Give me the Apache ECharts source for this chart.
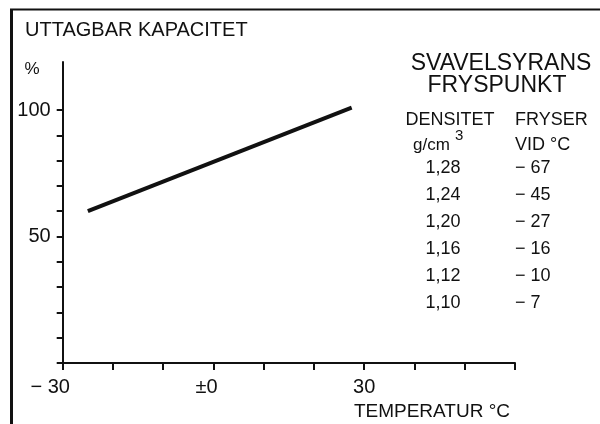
<!DOCTYPE html>
<html>
<head>
<meta charset="utf-8">
<script src="https://cdn.jsdelivr.net/npm/echarts@6/dist/echarts.min.js"></script>
<style>
html,body{margin:0;padding:0;background:#fff;}
#c{width:600px;height:424px;}
</style>
</head>
<body>
<div id="c"></div>
<script>
// ---- data ----
var temperatures = [-25, 27.5];          // °C
var capacity = [60, 101];                // %
var xTickLabels = {'-30': '− 30', '0': '±0', '30': '30'};
var yTickLabels = [50, 100];
var densities = ['1,28', '1,24', '1,20', '1,16', '1,12', '1,10'];
var freezePoints = ['− 67', '− 45', '− 27', '− 16', '− 10', '− 7'];

var INK = '#111111';
var FONT = '"Liberation Sans", Arial, sans-serif';

var chart = echarts.init(document.getElementById('c'), null, {renderer: 'canvas'});

function txt(x, y, s, size, align, weight) {
  return {
    type: 'text', x: x, y: y,
    style: {text: s, fill: INK, font: (weight || 'normal') + ' ' + size + 'px ' + FONT,
            textAlign: align || 'left', textVerticalAlign: 'middle'}
  };
}

var tableGraphics = [];
var rowY0 = 168, rowStep = 27;
densities.forEach(function (d, i) {
  tableGraphics.push(txt(443, rowY0 + i * rowStep, d, 18, 'center'));
  tableGraphics.push(txt(515, rowY0 + i * rowStep, freezePoints[i], 18, 'left'));
});

var graphics = [
  // frame
  {type: 'line', shape: {x1: 11.5, y1: 9, x2: 11.5, y2: 424}, style: {stroke: INK, lineWidth: 3}},
  {type: 'line', shape: {x1: 10, y1: 9.5, x2: 600, y2: 9.5}, style: {stroke: INK, lineWidth: 2}},
  txt(25, 30, 'UTTAGBAR KAPACITET', 20),
  txt(32, 69, '%', 17, 'center'),
  txt(501, 64, 'SVAVELSYRANS', 23, 'center'),
  txt(497, 86, 'FRYSPUNKT', 23, 'center'),
  txt(450, 120, 'DENSITET', 18, 'center'),
  txt(515, 120, 'FRYSER', 18, 'left'),
  txt(413, 145, 'g/cm', 17, 'left'),
  txt(455, 136, '3', 15, 'left'),
  txt(515, 145, 'VID °C', 18, 'left')
].concat(tableGraphics);

chart.setOption({
  animation: false,
  backgroundColor: '#fff',
  grid: {left: 62.7, right: 85, top: 62, bottom: 61, containLabel: false},
  xAxis: {
    type: 'value', min: -30, max: 60, interval: 10,
    name: 'TEMPERATUR °C', nameLocation: 'end',
    nameGap: 0,
    nameTextStyle: {color: INK, fontSize: 19, fontFamily: FONT, align: 'right', verticalAlign: 'top',
                    padding: [39, 5, 0, 0]},
    axisLine: {onZero: false, lineStyle: {color: INK, width: 2}},
    axisTick: {show: true, length: 7, lineStyle: {color: INK, width: 2}},
    splitLine: {show: false},
    axisLabel: {
      margin: 14, color: INK, fontSize: 20, fontFamily: FONT,
      formatter: function (v) {
        var s = xTickLabels[String(v)];
        if (!s) return '';
        if (v === -30) return '{a|' + s + '}';
        if (v === 0) return '{b|' + s + '}';
        return '{c|' + s + '}';
      },
      rich: {
        a: {fontSize: 20, fontFamily: FONT, color: INK, padding: [0, 25, 0, 0]},
        b: {fontSize: 20, fontFamily: FONT, color: INK, padding: [0, 14, 0, 0]},
        c: {fontSize: 20, fontFamily: FONT, color: INK}
      }
    }
  },
  yAxis: {
    type: 'value', min: 0, max: 119,
    axisLine: {show: true, onZero: false, lineStyle: {color: INK, width: 2}},
    axisTick: {show: true, length: 6, lineStyle: {color: INK, width: 2},
               customValues: [0, 10, 20, 30, 40, 50, 60, 70, 80, 90, 100]},
    splitLine: {show: false},
    axisLabel: {margin: 12, color: INK, fontSize: 20, fontFamily: FONT,
                customValues: yTickLabels}
  },
  series: [{
    type: 'line',
    data: temperatures.map(function (t, i) { return [t, capacity[i]]; }),
    showSymbol: false, symbol: 'none',
    lineStyle: {color: INK, width: 4},
    silent: true
  }],
  graphic: graphics
});
</script>
</body>
</html>
